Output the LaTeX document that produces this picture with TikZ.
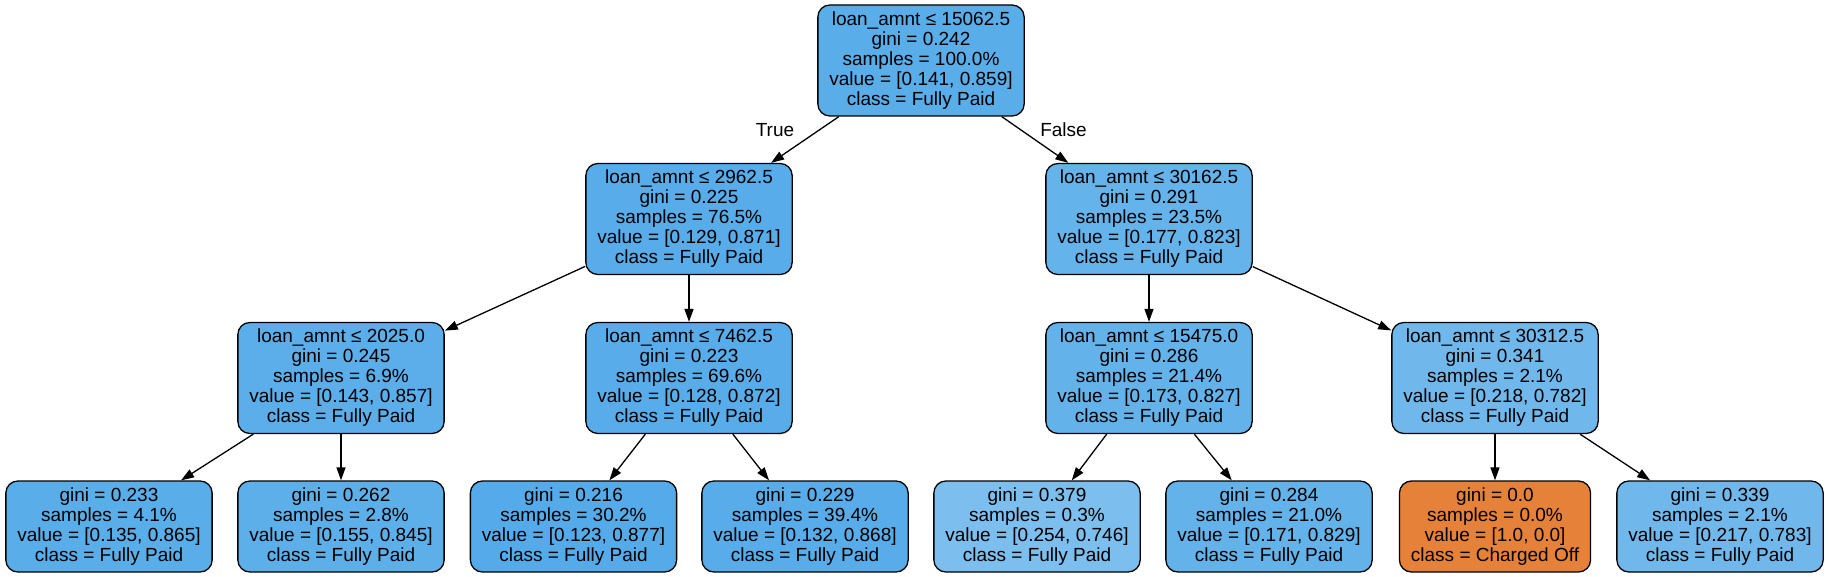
\documentclass[tikz,border=0pt]{standalone}
\usepackage{fontspec}
\setmainfont{Liberation Sans}
\usepackage{tikz}
\usetikzlibrary{arrows.meta,positioning}
\definecolor{clsblue}{RGB}{57,157,229}
\definecolor{clsorange}{RGB}{229,129,57}
\tikzset{
  decision/.style={draw,rounded corners=12pt,line width=1.3pt,align=center,
    inner xsep=11.5pt,inner ysep=0pt,minimum height=111pt,
    font=\fontsize{19}{20}\selectfont},
  leaf/.style={decision,minimum height=91pt},
  branch/.style={font=\fontsize{19}{20}\selectfont,inner sep=0pt}
}

\begin{document}
\begin{tikzpicture}[x=1pt,y=-1pt,on grid,
        >={Triangle[length=13pt,width=9pt]}]
      \useasboundingbox (0,0) rectangle (1829,577);
      % split nodes
      \node[decision,fill=clsblue!84!white] (root) at (921,60.5)
        {loan\_amnt ≤ 15062.5\\gini = 0.242\\samples = 100.0\%\\value = [0.141, 0.859]\\class = Fully Paid};
      \node[decision,fill=clsblue!85!white] (n1) [below left=158.5pt and 232pt of root]
        {loan\_amnt ≤ 2962.5\\gini = 0.225\\samples = 76.5\%\\value = [0.129, 0.871]\\class = Fully Paid};
      \node[decision,fill=clsblue!78!white] (n2) [below right=158.5pt and 228pt of root]
        {loan\_amnt ≤ 30162.5\\gini = 0.291\\samples = 23.5\%\\value = [0.177, 0.823]\\class = Fully Paid};
      \node[decision,fill=clsblue!83!white] (n3) [below left=159pt and 348pt of n1]
        {loan\_amnt ≤ 2025.0\\gini = 0.245\\samples = 6.9\%\\value = [0.143, 0.857]\\class = Fully Paid};
      \node[decision,fill=clsblue!85!white] (n4) [below=159pt of n1]
        {loan\_amnt ≤ 7462.5\\gini = 0.223\\samples = 69.6\%\\value = [0.128, 0.872]\\class = Fully Paid};
      \node[decision,fill=clsblue!79!white] (n5) [below=159pt of n2]
        {loan\_amnt ≤ 15475.0\\gini = 0.286\\samples = 21.4\%\\value = [0.173, 0.827]\\class = Fully Paid};
      \node[decision,fill=clsblue!72!white] (n6) [below right=159pt and 346pt of n2]
        {loan\_amnt ≤ 30312.5\\gini = 0.341\\samples = 2.1\%\\value = [0.218, 0.782]\\class = Fully Paid};
      % leaves
      \node[leaf,fill=clsblue!84!white] (l1) [below left=148.5pt and 232pt of n3]
        {gini = 0.233\\samples = 4.1\%\\value = [0.135, 0.865]\\class = Fully Paid};
      \node[leaf,fill=clsblue!82!white] (l2) [below=148.5pt of n3]
        {gini = 0.262\\samples = 2.8\%\\value = [0.155, 0.845]\\class = Fully Paid};
      \node[leaf,fill=clsblue!86!white] (l3) [below left=148.5pt and 115.5pt of n4]
        {gini = 0.216\\samples = 30.2\%\\value = [0.123, 0.877]\\class = Fully Paid};
      \node[leaf,fill=clsblue!85!white] (l4) [below right=148.5pt and 116pt of n4]
        {gini = 0.229\\samples = 39.4\%\\value = [0.132, 0.868]\\class = Fully Paid};
      \node[leaf,fill=clsblue!66!white] (l5) [below left=148.5pt and 112pt of n5]
        {gini = 0.379\\samples = 0.3\%\\value = [0.254, 0.746]\\class = Fully Paid};
      \node[leaf,fill=clsblue!79!white] (l6) [below right=148.5pt and 120pt of n5]
        {gini = 0.284\\samples = 21.0\%\\value = [0.171, 0.829]\\class = Fully Paid};
      \node[leaf,fill=clsorange] (l7) [below=148.5pt of n6]
        {gini = 0.0\\samples = 0.0\%\\value = [1.0, 0.0]\\class = Charged Off};
      \node[leaf,fill=clsblue!72!white] (l8) [below right=148.5pt and 225pt of n6]
        {gini = 0.339\\samples = 2.1\%\\value = [0.217, 0.783]\\class = Fully Paid};
      % branch labels
      \node[branch] (yes) [below left=69.5pt and 146pt of root] {True};
      \node[branch] (no) [below right=69.5pt and 142.5pt of root] {False};
      \path[->,line width=1.3pt]
        (root) edge (n1)
        (root) edge (n2)
        (n1) edge (n3)
        (n1) edge (n4)
        (n2) edge (n5)
        (n2) edge (n6)
        (n3) edge (l1)
        (n3) edge (l2)
        (n4) edge (l3)
        (n4) edge (l4)
        (n5) edge (l5)
        (n5) edge (l6)
        (n6) edge (l7)
        (n6) edge (l8);
    \end{tikzpicture}
\end{document}
